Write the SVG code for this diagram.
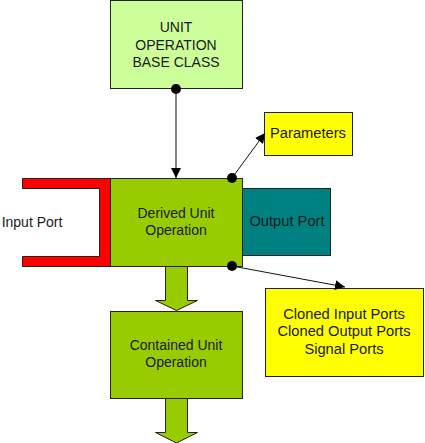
<svg xmlns="http://www.w3.org/2000/svg" width="425" height="443" viewBox="0 0 425 443">
<defs>
<style>
text{font-family:"Liberation Sans",Arial,sans-serif;font-size:14px;fill:#1a1a1a;text-anchor:middle}
.lg{font-size:14.7px}
.bx{stroke:#222;stroke-width:1}
.ln{stroke:#111;stroke-width:1;fill:none}
.dot{fill:#000}
</style>
<marker id="ah" viewBox="0 0 10 10" refX="10" refY="5" markerWidth="10" markerHeight="10" markerUnits="userSpaceOnUse" orient="auto">
<path d="M0,0 L10,5 L0,10 Z" fill="#000"/>
</marker>
</defs>
<rect width="425" height="443" fill="#fff"/>
<g id="base">
<rect class="bx" x="110.5" y="0.5" width="132" height="88" fill="#ccff99"/>
<text x="176" y="32">UNIT</text>
<text x="176" y="50">OPERATION</text>
<text x="176" y="67">BASE CLASS</text>
</g>
<g id="input-port">
<path class="bx" d="M22.5,178.5 H110.5 V266.5 H22.5 V256.5 H99.5 V188.5 H22.5 Z" fill="#ff0000"/>
<text x="32" y="227">Input Port</text>
</g>
<g id="output-port">
<rect class="bx" x="242.5" y="188.5" width="88" height="67" fill="#008080"/>
<text class="lg" x="287" y="226">Output Port</text>
</g>
<g id="derived">
<rect class="bx" x="110.5" y="178.5" width="132" height="88" fill="#99cc00"/>
<text x="176" y="218">Derived Unit</text>
<text x="176" y="235">Operation</text>
</g>
<g id="parameters">
<rect class="bx" x="264.5" y="112.5" width="88" height="43" fill="#ffff00"/>
<text class="lg" x="308" y="138">Parameters</text>
</g>
<g id="cloned">
<rect class="bx" x="265.5" y="288.5" width="158" height="88" fill="#ffff00"/>
<text class="lg" x="344" y="319">Cloned Input Ports</text>
<text class="lg" x="344" y="336">Cloned Output Ports</text>
<text class="lg" x="344" y="354">Signal Ports</text>
</g>
<g id="contained">
<rect class="bx" x="110.5" y="311.5" width="132" height="87" fill="#99cc00"/>
<text x="176" y="350">Contained Unit</text>
<text x="176" y="367">Operation</text>
</g>
<g id="connectors">
<path class="ln" d="M176,89 V178" marker-end="url(#ah)"/>
<path class="ln" d="M232,178 L265,133" marker-end="url(#ah)"/>
<path class="ln" d="M232,266 L345,287" marker-end="url(#ah)"/>
<path class="bx" d="M165.5,266.5 V300.5 H155.5 L176.5,310.5 L197.5,300.5 H187.5 V266.5 Z" fill="#99cc00"/>
<path class="bx" d="M165.5,398.5 V432.5 H155.5 L176.5,443 L197.5,432.5 H187.5 V398.5 Z" fill="#99cc00"/>
<circle class="dot" cx="176" cy="89" r="5"/>
<circle class="dot" cx="232" cy="178" r="5"/>
<circle class="dot" cx="232" cy="266" r="5"/>
</g>
</svg>
